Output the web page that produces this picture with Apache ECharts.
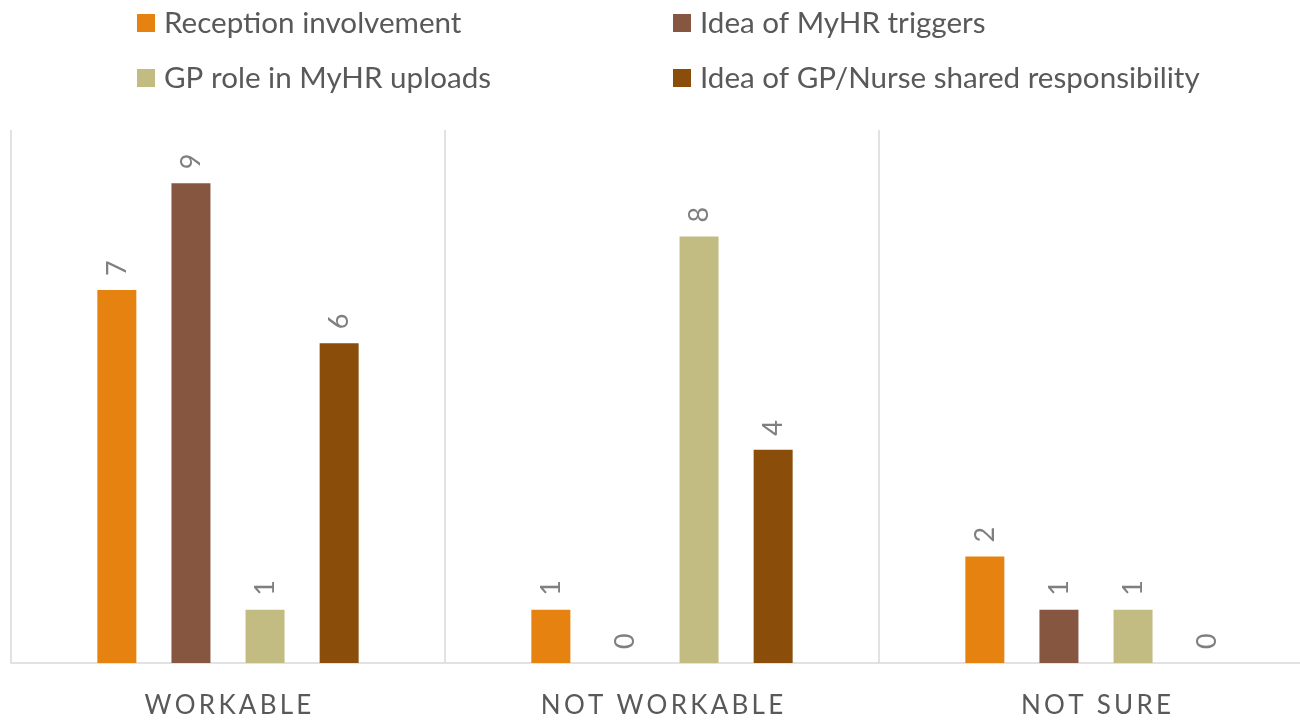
<!DOCTYPE html>
<html>
<head>
<meta charset="utf-8">
<style>
  html, body { margin: 0; padding: 0; background: #ffffff; }
  #chart { width: 1300px; height: 721px; }
</style>
<script src="https://cdn.jsdelivr.net/npm/echarts@6/dist/echarts.min.js"></script>
</head>
<body>
<div id="chart"></div>
<script>
// Survey responses per proposal, grouped by verdict
const categories = ['WORKABLE', 'NOT WORKABLE', 'NOT SURE'];
const seriesNames = [
  'Reception involvement',
  'Idea of MyHR triggers',
  'GP role in MyHR uploads',
  'Idea of GP/Nurse shared responsibility'
];
const receptionInvolvement = [7, 1, 2];
const myhrTriggers = [9, 0, 1];
const gpRoleUploads = [1, 8, 1];
const sharedResponsibility = [6, 4, 0];
const seriesValues = [receptionInvolvement, myhrTriggers, gpRoleUploads, sharedResponsibility];
const seriesColors = ['#E6820F', '#865640', '#C3BC82', '#8A4D0A'];

const FONT = 'Lato, "Open Sans", sans-serif';

// spread the capital letters of the axis labels a little
function spaced(txt) {
  return txt.split('').join('\u2009');
}

const chart = echarts.init(document.getElementById('chart'));

const legendText = {
  color: '#595959',
  fontFamily: FONT,
  fontSize: 29.6,
  lineHeight: 32,
  padding: [0, 0, 0, 4]
};

function legendColumn(left, names) {
  return {
    orient: 'vertical',
    left: left,
    top: 7,
    padding: 0,
    icon: 'rect',
    itemWidth: 18,
    itemHeight: 18,
    itemGap: 23,
    selectedMode: false,
    textStyle: legendText,
    data: names
  };
}

chart.setOption({
  animation: false,
  backgroundColor: '#ffffff',
  legend: [
    legendColumn(137, [seriesNames[0], seriesNames[2]]),
    legendColumn(673, [seriesNames[1], seriesNames[3]])
  ],
  grid: {
    left: 11,
    top: 130,
    width: 1302,
    bottom: 58,
    containLabel: false,
    outerBoundsMode: 'none'
  },
  xAxis: {
    type: 'category',
    data: categories,
    boundaryGap: true,
    axisLine: { show: true, lineStyle: { color: '#D9D9D9', width: 1.5 } },
    axisTick: { show: false },
    splitLine: { show: true, interval: 0, lineStyle: { color: '#D9D9D9', width: 1.5 } },
    axisLabel: {
      color: '#595959',
      fontFamily: FONT,
      fontSize: 26,
      margin: 30,
      formatter: spaced
    }
  },
  yAxis: {
    type: 'value',
    min: 0,
    max: 10,
    show: false,
    splitLine: { show: false }
  },
  series: seriesNames.map((name, i) => ({
    name: name,
    type: 'bar',
    data: seriesValues[i],
    barWidth: 39,
    barGap: '90%',
    itemStyle: { color: seriesColors[i] },
    label: {
      show: true,
      position: 'top',
      rotate: 90,
      align: 'left',
      verticalAlign: 'middle',
      distance: 14,
      color: '#7F7F7F',
      fontFamily: FONT,
      fontSize: 27
    }
  }))
});
</script>
</body>
</html>
